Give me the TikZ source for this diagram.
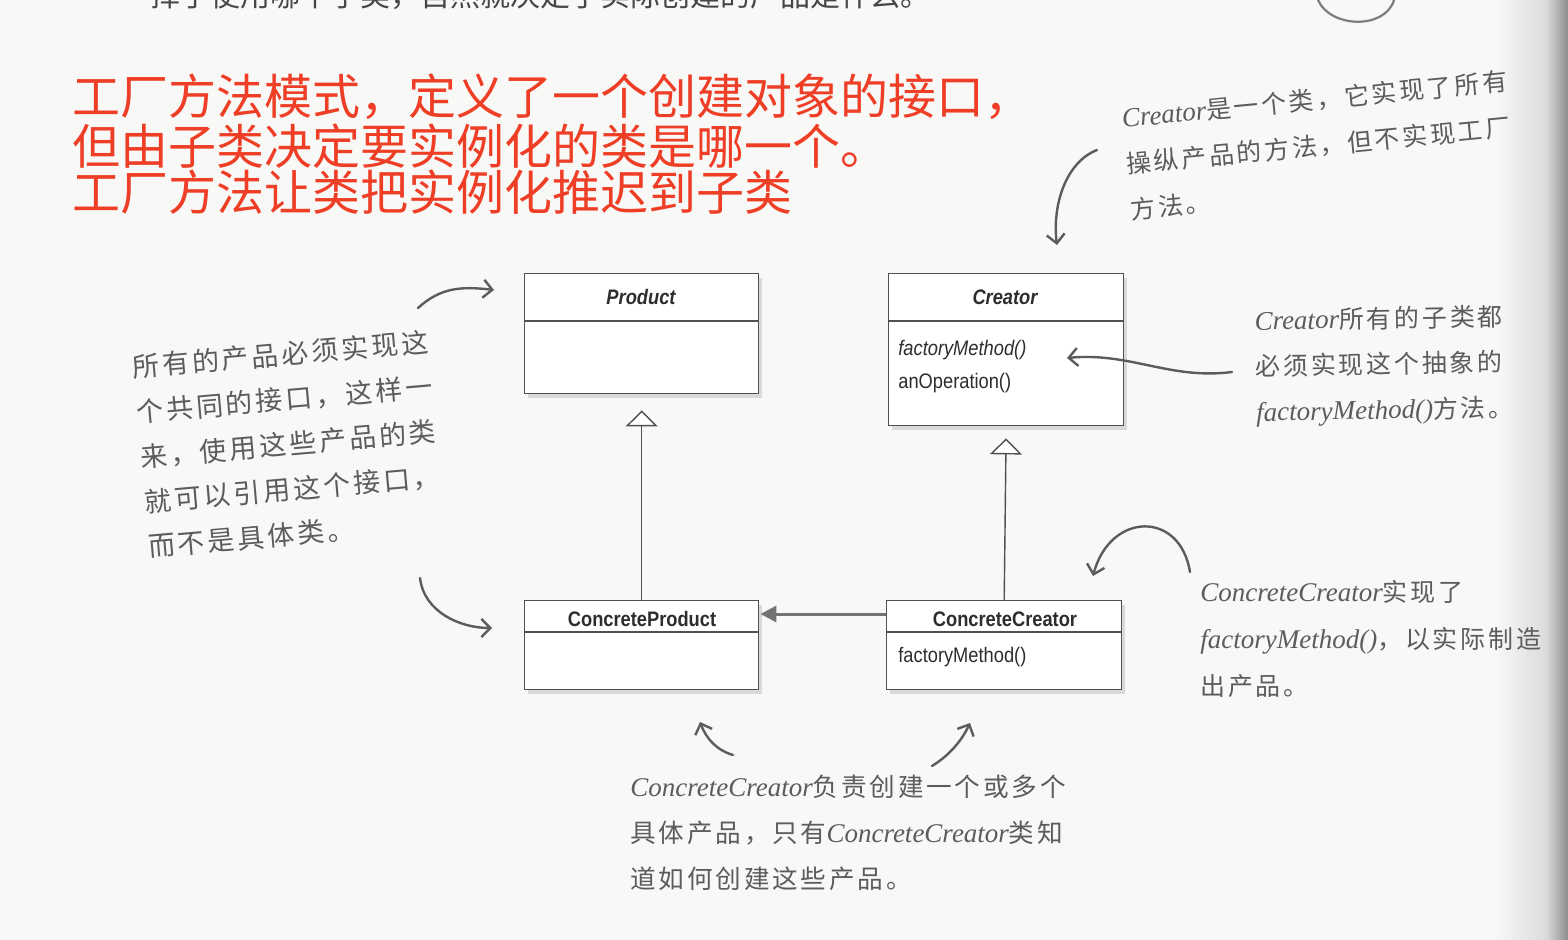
\documentclass[tikz,border=0pt]{standalone}
\usepackage{fontspec}
\setmainfont{Liberation Sans}
\newfontfamily\cjkfont{Noto Sans CJK SC}
\newfontfamily\handcjk[LetterSpace=11]{Noto Sans CJK SC}
\newfontfamily\handlat{Liberation Serif}
\newfontfamily\umlfont[FakeStretch=0.87]{Liberation Sans}
\usetikzlibrary{arrows.meta,shadows,calc}

\definecolor{pagebg}{RGB}{248,248,247}
\definecolor{titlered}{RGB}{238,62,38}
\definecolor{umlline}{RGB}{80,80,80}
\definecolor{umltext}{RGB}{45,45,45}
\definecolor{assocgray}{RGB}{115,115,115}
\definecolor{handgray}{RGB}{92,92,92}
\definecolor{booktext}{RGB}{70,70,70}

% Latin words inside the handwritten notes
\newcommand{\lat}[1]{{\handlat\itshape\fontsize{13.5}{20}\selectfont #1}}

\begin{document}
\begin{tikzpicture}[x=0.5pt,y=-0.5pt,
  umlbox/.style={draw=umlline, line width=0.7pt, fill=white, anchor=north west,
    inner sep=0, drop shadow={shadow xshift=1.8pt, shadow yshift=-2pt, opacity=0.25}},
  umltxt/.style={font=\umlfont\fontsize{10.5}{12}\selectfont, text=umltext, inner sep=0},
  divider/.style={draw=umlline, line width=0.6pt},
  inherit/.style={draw=umlline, line width=0.7pt,
    -{Triangle[open, length=8pt, width=16pt, fill=white]}},
  assoc/.style={draw=assocgray, line width=1.5pt, -{Triangle[length=8pt, width=8pt]}},
  handarrow/.style={draw=handgray, line width=1.2pt, line cap=round,
    -{Straight Barb[length=4.5pt, width=9pt]}},
  handtext/.style={text=handgray, align=left, inner sep=0, anchor=west},
  redtitle/.style={font=\cjkfont\fontsize{24}{28}\selectfont, text=titlered,
    anchor=west, inner sep=0}]

% page
\fill[pagebg] (0,0) rectangle (1568,940);
\useasboundingbox (0,0) rectangle (1568,940);
\shade[left color=pagebg, right color=black!14] (1495,0) rectangle (1546,940);
\shade[left color=black!14, right color=black!45] (1546,0) rectangle (1568,940);

% last line of the preceding paragraph
\node[anchor=west, inner sep=0, text=booktext, font=\cjkfont\fontsize{15}{18}\selectfont]
  (bookline) at (150,-5) {择了使用哪个子类，自然就决定了实际创建的产品是什么。};

% loop of a sketch at the top edge
\draw[handgray!80, line width=1.1pt, line cap=round]
  (1318,0) .. controls (1330,28) and (1385,30) .. (1394,0);

% heading
\node[redtitle] (t1) at (72,97)  {工厂方法模式，定义了一个创建对象的接口，};
\node[redtitle] (t2) at (72,146) {但由子类决定要实例化的类是哪一个。};
\node[redtitle] (t3) at (72,192) {工厂方法让类把实例化推迟到子类};

% class boxes
\node[umlbox, minimum width=117pt, minimum height=60pt]   (product)  at (524,273) {};
\node[umlbox, minimum width=117.5pt, minimum height=76pt] (creator)  at (888,273) {};
\node[umlbox, minimum width=117pt, minimum height=44.5pt] (cproduct) at (524,600) {};
\node[umlbox, minimum width=117.5pt, minimum height=44.5pt] (ccreator) at (886,600) {};

\draw[divider] ($(product.north west)+(0,48)$)  -- ($(product.north east)+(0,48)$);
\draw[divider] ($(creator.north west)+(0,48)$)  -- ($(creator.north east)+(0,48)$);
\draw[divider] ($(cproduct.north west)+(0,32)$) -- ($(cproduct.north east)+(0,32)$);
\draw[divider] ($(ccreator.north west)+(0,32)$) -- ($(ccreator.north east)+(0,32)$);

\node[umltxt] (productname) at (641,297) {\bfseries\itshape Product};
\node[umltxt] (creatorname) at (1005,297) {\bfseries\itshape Creator};
\node[umltxt, anchor=west] (fm1) at (898,350) {\itshape factoryMethod()};
\node[umltxt, anchor=west] (anop) at (898,383) {anOperation()};
\node[umltxt] (cproductname) at (642,619) {\bfseries ConcreteProduct};
\node[umltxt] (ccreatorname) at (1005,619) {\bfseries ConcreteCreator};
\node[umltxt, anchor=west] (fm2) at (898,657) {factoryMethod()};

% relations
\draw[inherit, shorten >=8pt] (cproduct.north) -- (product.south);
\draw[inherit, shorten >=6pt] (ccreator.north) -- (creator.south);
\draw[assoc] ($(ccreator.north west)+(0,14)$) -- ($(cproduct.north east)+(1,14)$);

% handwritten notes
\node[handtext, rotate=5, font=\handcjk\fontsize{13.5}{22.5}\selectfont] (noteprod) at (140,457)
  {所有的产品必须实现这\\个共同的接口，这样一\\来，使用这些产品的类\\就可以引用这个接口，\\而不是具体类。};

\node[handtext, rotate=5.5, font=\handcjk\fontsize{12.5}{23}\selectfont] (notecreator) at (1126,164)
  {\lat{Creator}是一个类，它实现了所有\\操纵产品的方法，但不实现工厂\\方法。};

\node[handtext, rotate=1, font=\handcjk\fontsize{12.5}{22.8}\selectfont] (notesub) at (1255,368)
  {\lat{Creator}所有的子类都\\必须实现这个抽象的\\\lat{factoryMethod()}方法。};

\node[handtext, font=\handcjk\fontsize{12.5}{23.5}\selectfont] (noteimpl) at (1200,639)
  {\lat{ConcreteCreator}实现了\\\lat{factoryMethod()}，以实际制造\\出产品。};

\node[handtext, font=\handcjk\fontsize{12.8}{23}\selectfont] (notemake) at (630,833)
  {\lat{ConcreteCreator}负责创建一个或多个\\具体产品，只有\lat{ConcreteCreator}类知\\道如何创建这些产品。};

% handwritten arrows
\coordinate (a1s) at (418,308);  \coordinate (a1e) at (494,290);
\coordinate (a2s) at (420,578);  \coordinate (a2e) at (492,628);
\coordinate (a3s) at (1097,150); \coordinate (a3e) at (1057,245);
\coordinate (a4s) at (1232,372); \coordinate (a4e) at (1067,358);
\coordinate (a5s) at (1190,572); \coordinate (a5e) at (1093,576);
\coordinate (a6s) at (733,755);  \coordinate (a6e) at (700,722);
\coordinate (a7s) at (932,766);  \coordinate (a7e) at (970,723);

\draw[handarrow] (a1s) .. controls (440,288) and (460,286) .. (a1e);
\draw[handarrow] (a2s) .. controls (424,612) and (460,628) .. (a2e);
\draw[handarrow] (a3s) .. controls (1066,162) and (1052,205) .. (a3e);
\draw[handarrow] (a4s) .. controls (1170,380) and (1130,352) .. (a4e);
\draw[handarrow] (a5s) .. controls (1180,510) and (1110,512) .. (a5e);
\draw[handarrow] (a6s) .. controls (716,750) and (706,738) .. (a6e);
\draw[handarrow] (a7s) .. controls (950,755) and (962,740) .. (a7e);
\end{tikzpicture}
\end{document}
